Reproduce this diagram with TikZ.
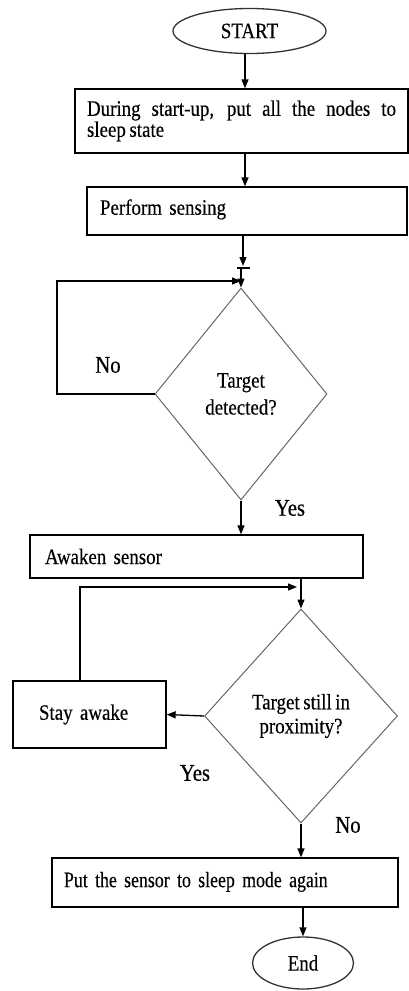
\documentclass[tikz,border=0pt]{standalone}
\usepackage{fontspec}
\setmainfont{Liberation Serif}[FakeStretch=0.86,FakeBold=0.3]
\newfontfamily\tightfont{Liberation Serif}[FakeStretch=0.81,FakeBold=0.3]
\usetikzlibrary{shapes.geometric,arrows.meta}
\newcommand{\myfont}[3]{\fontsize{#1}{#2}\selectfont\spaceskip=#3 plus 3pt minus 0.5pt\relax}
\begin{document}
\begin{tikzpicture}[x=1pt,y=-1pt,
  every node/.style={font=\myfont{22}{21}{3.6pt}},
  box/.style={draw=black,line width=1.3pt,rectangle,inner ysep=0pt,align=left},
  term/.style={draw=black!80,line width=1.3pt,ellipse,inner sep=0pt},
  dec/.style={draw=black!60,line width=1pt,diamond,inner sep=0pt,align=center},
  arr/.style={line width=1.3pt,-{Triangle[length=9pt,width=7pt]}},
  ln/.style={line width=1.3pt},
  lbl/.style={inner sep=0pt,font=\myfont{24}{24}{3.6pt}}]
\useasboundingbox (0,0) rectangle (409,991);

% nodes
\node[term, minimum width=153pt, minimum height=45pt] (start) at (249.5,31) {START};
\node[box, minimum height=64pt, text width=309pt, inner xsep=12pt, align=justify] (b1) at (241.5,121) {During start-up, put all the nodes to\linebreak sleep state};
\node[box, minimum height=48pt, text width=294pt, inner xsep=13pt, text depth=8pt] (b2) at (247,211) {Perform sensing};
\node[dec, minimum width=172pt, minimum height=212pt, font=\myfont{22}{27}{3.6pt}] (d1) at (241,394) {Target\\detected?};
\node[box, minimum height=43pt, text width=303pt, inner xsep=15pt] (b3) at (196.5,556.5) {Awaken sensor};
\node[dec, minimum width=193pt, minimum height=214pt, font=\myfont{22}{24}{3.6pt}] (d2) at (301,716) {Target still in\\proximity?};
\node[box, minimum height=67pt, text width=101pt, inner xsep=26pt] (stay) at (89.5,714.5) {Stay awake};
\node[box, minimum height=49pt, text width=322pt, inner xsep=12pt, font=\tightfont\fontsize{22}{21}\selectfont, text depth=6pt] (b4) at (225,882.5) {Put the sensor to sleep mode again};
\node[term, minimum width=101pt, minimum height=52pt] (end) at (303,963) {End};

% labels
\node[lbl] (no1) at (108,365) {No};
\node[lbl] (yes1) at (290,508) {Yes};
\node[lbl] (yes2) at (195,773) {Yes};
\node[lbl] (no2) at (348,825) {No};

% helper coordinates
\coordinate (ax) at (245,0);
\coordinate (bx) at (243,0);
\coordinate (t1) at (243,266);
\coordinate (tk) at (243,268);
\coordinate (L1) at (57,281);
\coordinate (L2) at (80,587);
\coordinate (L2e) at (297,587);

% connectors
\draw[arr] (start.south -| ax) -- (b1.north -| ax);
\draw[arr] (b1.south -| ax) -- (b2.north -| ax);
\draw[arr] (b2.south -| bx) -- (t1);
\draw[ln] ([xshift=-6pt]tk) -- ([xshift=7pt]tk);
\draw[arr] (tk -| d1) -- (d1.north);
\draw[arr] (d1.west) -| (L1) -- (L1 -| d1);
\draw[arr] (d1.south) -- (d1.south |- b3.north);
\draw[arr] (b3.south -| d2) -- (d2.north);
\draw[arr] (stay.north -| L2) -- (L2) -- (L2e);
\draw[arr] (d2.west) -- (stay.east);
\draw[arr] (d2.south) -- (d2.south |- b4.north);
\draw[arr] (b4.south -| end) -- (end.north);
\end{tikzpicture}
\end{document}
